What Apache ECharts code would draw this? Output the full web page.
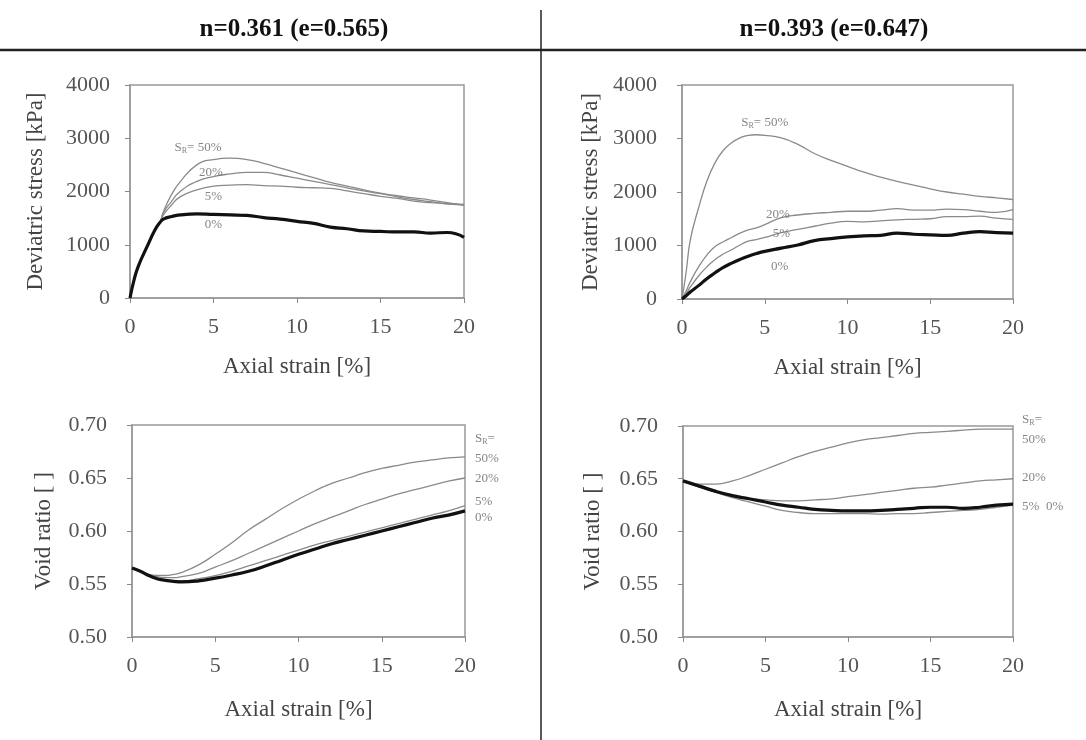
<!DOCTYPE html>
<html><head><meta charset="utf-8">
<script src="https://cdn.jsdelivr.net/npm/echarts@6/dist/echarts.min.js"></script>
<style>html,body{margin:0;padding:0;background:#fff}#c{width:1086px;height:740px}</style>
</head><body><div id="c"></div>
<script>
// ---- Top-left: n=0.361 deviatoric stress ----
const tlStrain = [0,0.25,0.5,1,1.5,1.8,2,2.5,3,4,5,6,7,8,9,10,11,12,13,14,15,16,17,18,19,20];
const tl0  = [0,350,600,950,1280,1420,1480,1530,1560,1580,1570,1560,1550,1510,1480,1440,1400,1330,1300,1260,1250,1240,1240,1220,1230,1140];
const tl5  = [0,350,600,950,1280,1420,1560,1750,1900,2030,2100,2120,2130,2110,2100,2080,2070,2060,2010,1960,1910,1870,1820,1790,1770,1760];
const tl20 = [0,350,600,950,1280,1420,1600,1820,2000,2190,2280,2330,2360,2360,2310,2250,2190,2130,2070,2010,1960,1900,1850,1810,1770,1750];
const tl50 = [0,350,600,950,1280,1420,1620,1950,2180,2500,2600,2625,2600,2530,2440,2350,2260,2170,2100,2030,1970,1920,1880,1840,1790,1740];
// ---- Top-right: n=0.393 deviatoric stress ----
const trStrain = [0,0.25,0.5,1,1.5,2,2.5,3,3.5,4,4.5,5,6,7,8,9,10,11,12,13,14,15,16,17,18,19,20];
const tr50 = [0,500,1100,1700,2200,2550,2780,2920,3010,3060,3070,3060,3010,2890,2720,2590,2480,2370,2280,2200,2130,2060,2000,1960,1920,1890,1860];
const tr20 = [0,150,320,600,820,980,1070,1150,1230,1290,1330,1390,1520,1570,1600,1620,1640,1640,1660,1690,1660,1660,1680,1670,1640,1620,1670];
const tr5  = [0,100,220,430,600,740,840,920,1010,1080,1110,1150,1240,1300,1360,1420,1450,1440,1460,1480,1490,1500,1540,1540,1550,1510,1490];
const tr0  = [0,60,130,250,380,490,590,670,740,800,850,890,950,1010,1090,1130,1160,1180,1190,1230,1210,1200,1190,1230,1260,1240,1230];
// ---- Bottom-left: n=0.361 void ratio ----
const blStrain = [0,0.5,1,1.5,2,2.5,3,4,5,6,7,8,9,10,11,12,13,14,15,16,17,18,19,20];
const bl0  = [0.565,0.562,0.558,0.555,0.5535,0.5525,0.552,0.553,0.5555,0.5585,0.562,0.567,0.5725,0.578,0.583,0.588,0.592,0.596,0.600,0.604,0.608,0.612,0.615,0.619];
const bl5  = [0.565,0.562,0.558,0.5555,0.554,0.553,0.553,0.555,0.558,0.562,0.567,0.572,0.577,0.582,0.587,0.591,0.595,0.599,0.603,0.607,0.611,0.615,0.619,0.624];
const bl20 = [0.565,0.562,0.559,0.557,0.556,0.556,0.557,0.560,0.566,0.572,0.579,0.586,0.593,0.600,0.607,0.613,0.619,0.625,0.630,0.635,0.639,0.643,0.647,0.650];
const bl50 = [0.565,0.562,0.559,0.558,0.558,0.559,0.561,0.568,0.578,0.589,0.601,0.611,0.621,0.630,0.638,0.645,0.650,0.655,0.659,0.662,0.665,0.667,0.669,0.670];
// ---- Bottom-right: n=0.393 void ratio ----
const brStrain = [0,1,2,3,4,5,6,7,8,9,10,11,12,13,14,15,16,17,18,19,20];
const br50 = [0.648,0.645,0.645,0.648,0.653,0.659,0.665,0.671,0.676,0.680,0.684,0.687,0.689,0.691,0.693,0.694,0.695,0.696,0.697,0.697,0.697];
const br20 = [0.648,0.642,0.637,0.633,0.631,0.630,0.629,0.629,0.630,0.631,0.633,0.635,0.637,0.639,0.641,0.642,0.644,0.646,0.648,0.649,0.650];
const br0  = [0.648,0.643,0.638,0.634,0.631,0.628,0.625,0.623,0.621,0.620,0.6195,0.6195,0.620,0.621,0.622,0.623,0.623,0.622,0.623,0.625,0.626];
const br5  = [0.648,0.642,0.637,0.632,0.628,0.624,0.620,0.618,0.617,0.617,0.617,0.617,0.6165,0.617,0.617,0.618,0.619,0.620,0.621,0.623,0.625];
// ---- Text ----
const panelTitles = ['n=0.361 (e=0.565)', 'n=0.393 (e=0.647)'];
const stressTicks = ['0','1000','2000','3000','4000'];
const voidTicks = ['0.50','0.55','0.60','0.65','0.70'];
// annotations: [strain, value, text, align]
const tlNotes = [[4.07,2817,'S_R= 50%','center'],[4.85,2347,'20%','center'],[5.0,1897,'5%','center'],[5.0,1371,'0%','center']];
const trNotes = [[5.0,3290,'S_R= 50%','center'],[5.8,1570,'20%','center'],[6.0,1215,'5%','center'],[5.9,598,'0%','center']];
const blNotes = [[20.6,0.6868,'S_R=','left'],[20.6,0.668,'50%','left'],[20.6,0.649,'20%','left'],[20.6,0.6274,'5%','left'],[20.6,0.6123,'0%','left']];
const brNotes = [[20.55,0.7057,'S_R=','left'],[20.55,0.6867,'50%','left'],[20.55,0.6507,'20%','left'],[20.55,0.6232,'5%  0%','left']];

const SERIF = '"Liberation Serif","DejaVu Serif",serif';
const grids = [
  {left:130, top:85, width:334, height:213},
  {left:682, top:85, width:331, height:214},
  {left:132, top:425, width:333, height:212},
  {left:683, top:426, width:330, height:211}
];
const xNameGap = [57, 57, 61, 61];
const yNameGap = [83, 80, 77, 79];
const yLabMargin = [20, 25, 25, 25];
function xAxis(i){
  return {gridIndex:i, type:'value', min:0, max:20, interval:5,
    name:'Axial strain [%]', nameLocation:'middle', nameGap:xNameGap[i],
    nameTextStyle:{fontFamily:SERIF, fontSize:23, color:'#444'},
    axisLine:{show:true, onZero:false, lineStyle:{color:'#999', width:1.5}},
    axisTick:{show:true, length:5, lineStyle:{color:'#888'}},
    axisLabel:{fontFamily:SERIF, fontSize:22, color:'#555', margin:18},
    splitLine:{show:false}};
}
function yStress(i){
  return {gridIndex:i, type:'value', min:0, max:4000, interval:1000,
    name:'Deviatric stress [kPa]', nameLocation:'middle', nameGap:yNameGap[i],
    nameTextStyle:{fontFamily:SERIF, fontSize:23, color:'#444'},
    axisLine:{show:true, lineStyle:{color:'#999', width:1.5}},
    axisTick:{show:true, length:5, lineStyle:{color:'#888'}},
    axisLabel:{fontFamily:SERIF, fontSize:22, color:'#555', margin:yLabMargin[i],
      formatter:(v)=>stressTicks[Math.round(v/1000)]},
    splitLine:{show:false}};
}
function yVoid(i){
  return {gridIndex:i, type:'value', min:0.50, max:0.70, interval:0.05,
    name:'Void ratio [ ]', nameLocation:'middle', nameGap:yNameGap[i],
    nameTextStyle:{fontFamily:SERIF, fontSize:23, color:'#444'},
    axisLine:{show:true, lineStyle:{color:'#999', width:1.5}},
    axisTick:{show:true, length:5, lineStyle:{color:'#888'}},
    axisLabel:{fontFamily:SERIF, fontSize:22, color:'#555', margin:yLabMargin[i],
      formatter:(v)=>voidTicks[Math.round((v-0.5)/0.05)]},
    splitLine:{show:false}};
}
function pairs(xs, ys){ return xs.map((x,k)=>[x, ys[k]]); }
function line(i, xs, ys, thick){
  return {type:'line', xAxisIndex:i, yAxisIndex:i, data:pairs(xs,ys), showSymbol:false, smooth:0.5,
    lineStyle:{color: thick ? '#111' : '#8a8a8a', width: thick ? 3.2 : 1.3}, z: thick ? 3 : 2, silent:true};
}
function notes(i, arr){
  return {type:'scatter', xAxisIndex:i, yAxisIndex:i, symbolSize:0, clip:false, silent:true, z:5,
    data: arr.map(a=>({value:[a[0],a[1]], label:{align:a[3]}, name:a[2]})),
    label:{show:true, position:'inside', fontFamily:SERIF, fontSize:13, color:'#666',
      formatter:(p)=>{
        const t=p.name;
        if(t.indexOf('S_R')===0){ return '{a|S}{b|R}{a|'+t.slice(3)+'}'; }
        return '{a|'+t+'}';
      },
      rich:{a:{fontFamily:SERIF, fontSize:13, color:'#666'}, b:{fontFamily:SERIF, fontSize:8, color:'#666', verticalAlign:'bottom', padding:[6,0,0,0]}}}};
}
const chart = echarts.init(document.getElementById('c'), null, {renderer:'canvas'});
chart.setOption({
  animation:false,
  backgroundColor:'#fff',
  title: panelTitles.map((t,k)=>({text:t, left: k===0 ? 289 : 829, top:12, textAlign:'center',
    textStyle:{fontFamily:SERIF, fontWeight:'bold', fontSize:25, color:'#111'}})),
  grid: grids.map(g=>Object.assign({show:true, borderColor:'#999', borderWidth:1.5, backgroundColor:'#fff'}, g)),
  xAxis:[xAxis(0), xAxis(1), xAxis(2), xAxis(3)],
  yAxis:[yStress(0), yStress(1), yVoid(2), yVoid(3)],
  series:[
    line(0,tlStrain,tl50,false), line(0,tlStrain,tl20,false), line(0,tlStrain,tl5,false), line(0,tlStrain,tl0,true),
    line(1,trStrain,tr50,false), line(1,trStrain,tr20,false), line(1,trStrain,tr5,false), line(1,trStrain,tr0,true),
    line(2,blStrain,bl50,false), line(2,blStrain,bl20,false), line(2,blStrain,bl5,false), line(2,blStrain,bl0,true),
    line(3,brStrain,br50,false), line(3,brStrain,br20,false), line(3,brStrain,br5,false), line(3,brStrain,br0,true),
    notes(0,tlNotes), notes(1,trNotes), notes(2,blNotes), notes(3,brNotes)
  ],
  graphic:[
    {type:'line', shape:{x1:0,y1:50,x2:1086,y2:50}, style:{stroke:'#222', lineWidth:2.5}, silent:true},
    {type:'line', shape:{x1:541,y1:10,x2:541,y2:740}, style:{stroke:'#222', lineWidth:1.5}, silent:true}
  ]
});
</script></body></html>
